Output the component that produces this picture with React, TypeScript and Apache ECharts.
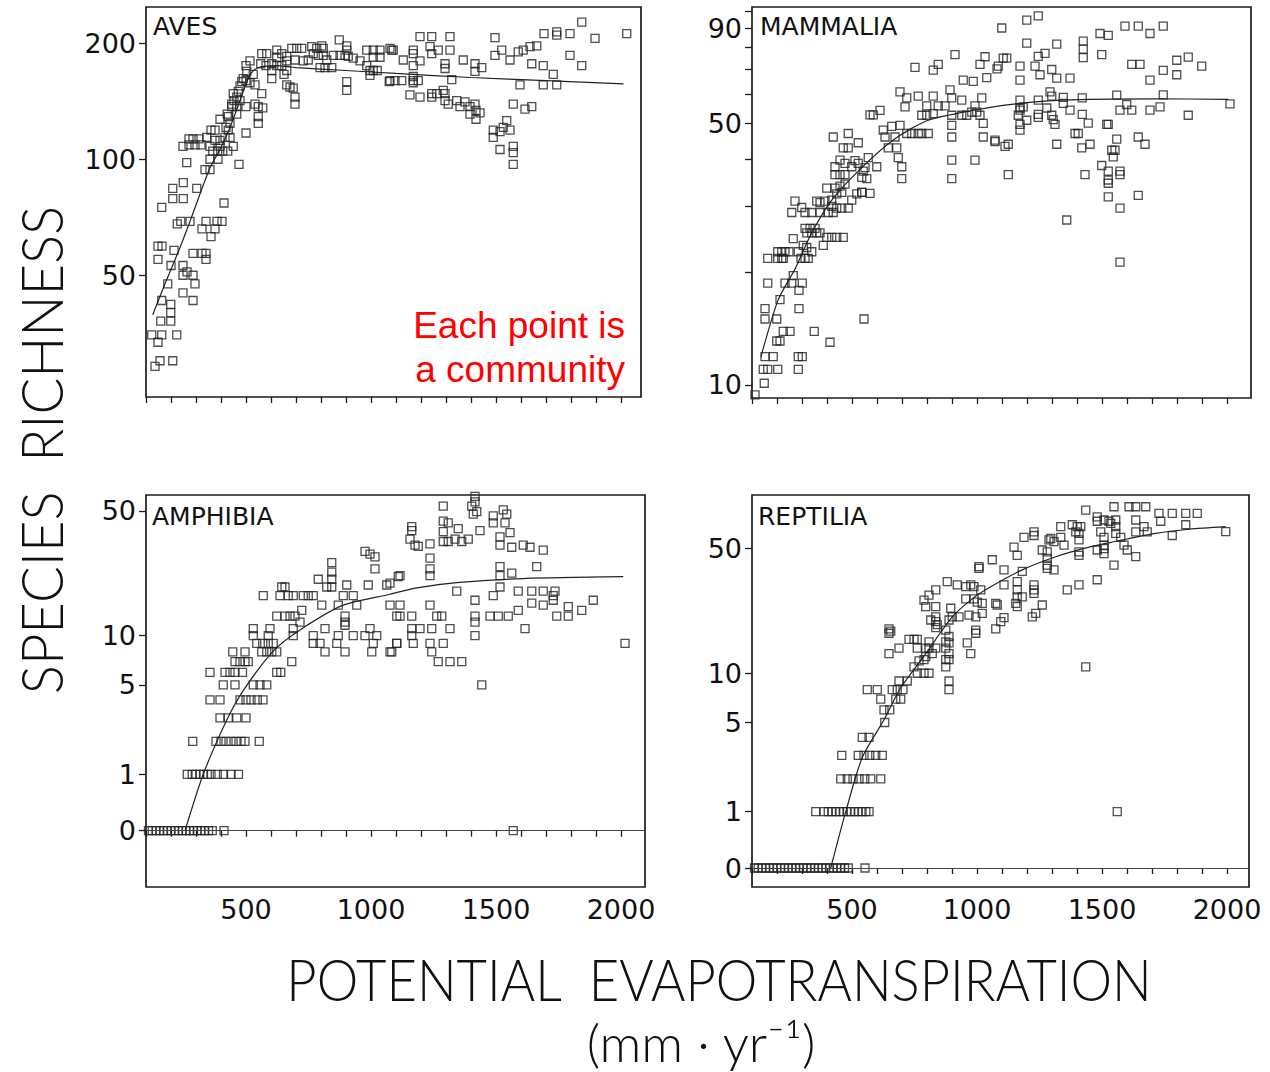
import React, { useEffect, useRef } from 'react';
import * as echarts from 'echarts';

// ---------- DATA: [potential evapotranspiration (mm/yr), species richness] ----------
const avesPoints: number[][] = [
  [123,35],[163,35],[148,33.5],[156,30],[136,29],[207,30],[223,35],[159,38],[199,38],[199,40],[199,42],[163,43],[148,55],[148,59.5],[164,59.5],[163,75],[187,47.5],[200,53],[212,58],[225,68],[239,69],[276,69],[207,84],[207,79],[249,79],[249,87],[263,98],[303,84],[248,53],[248,50],[248,45],[288,43],[288,50],[296,47.5],[264,51],[288,57],[324,57],[340,57],[340,55],[324,66],[360,63],[376,66],[340,69],[384,69],[404,69],[412,77],[472,97],[500,117],[336,94],[356,94],[356,100],[388,100],
  [248,108],[272,113],[288,113],[312,113],[272,109],[296,109],[320,109],[343,114],[356,108],[360,119],[376,119],[367,105],[387,105],[407,105],[427,105],[376,112],[396,112],[416,114],[429,119],[436,114],[420,121],[429,129],[436,124],[449,108],[396,108],[396,127],
  [425,131],[443,137],[452,142],[463,145],[449,148],[469,150],[476,155],[483,159],[489,162],[476,142],[463,137],[443,139],[463,131],
  [500,137],[536,139],[549,137],[567,136],[549,129],[549,124],
  [503,169],[500,160],[516,158],[536,156],[563,148],[516,180],[500,175],[529,166],
  [563,188],[583,188],[559,177],[580,175],[603,177],[603,170],[603,162],[623,192],[623,184],[643,188],[663,185],[663,180],[643,175],[623,175],
  [663,170],[652,166],[663,156],[676,154],[689,153],[696,145],[696,139],
  [683,194],[703,194],[723,194],[729,180],[749,181],[696,181],
  [763,196],[783,194],[803,197],[809,194],[769,188],[789,186],[809,186],[796,173],[816,173],[843,173],[823,181],[849,186],
  [873,204],[903,197],[903,192],[896,186],[876,186],[909,185],[929,183],[956,180],[983,175],[996,170],[1009,170],[1025,170],[996,165],[903,159],[903,151],
  [983,192],[1009,192],[1036,192],[1009,184],[1036,184],[1073,159],[1083,192],
  [1076,194],[1089,192],[1076,160],[1096,160],[1123,160],[1129,181],[1169,192],[1169,188],[1169,175],[1169,164],[1169,160],[1169,158],[1189,160],[1196,180],[1196,208],[1243,208],[1316,208],[1236,196],[1243,188],[1269,192],[1316,192],[1296,177],[1296,172],[1369,181],[1416,177],[1416,169],[1443,173],[1323,161],
  [1156,147],[1196,145],[1243,148],[1243,145],[1263,148],[1289,151],[1296,148],[1296,142],[1309,139],[1343,142],[1356,137],[1376,141],[1396,137],[1396,131],[1416,139],[1420,134],[1420,127],[1436,132],
  [1489,119],[1489,114],[1516,118],[1529,121],[1543,126],[1556,119],[1516,106],[1569,108],[1569,104],[1569,97],
  [1496,207],[1496,186],[1523,192],[1556,181],[1589,190],[1609,192],[1636,196],[1663,197],[1643,177],[1689,175],[1729,166],[1689,156],[1743,156],[1596,156],[1569,139],[1616,135],[1643,137],
  [1692,212],[1743,214],[1743,210],[1796,212],[1843,227],[1896,206],[1796,186],[1843,175],[2023,212],
];
const avesCurve: number[][] = [
  [127,39.5],[176,47.5],[236,59],[276,69],[356,95],[396,106],[436,121],[476,142],[500,157],[520,167],[550,173],[620,175],[700,173],[900,170],[1100,167],[1400,163],[1700,160],[2010,157],
];

const mammaliaPoints: number[][] = [
  [112,9.4],[149,10.1],[145,11],[163,11],[203,11],[152,11.9],[185,11.9],[285,11],[285,11.9],[301,11.9],[199,13.1],[212,13.1],[225,13.9],[252,13.9],[152,15],[199,15],[152,16],[288,16],[349,13.9],[412,13],[548,15],[212,16.9],[163,18.7],[232,18.7],[259,18.7],[301,18.7],[265,19.6],[288,17.9],
  [163,21.8],[203,22.7],[219,22.7],[232,22.7],[203,21.8],[219,21.8],[225,21.8],[248,22.7],[265,24.6],[285,22.7],[296,21.8],[312,21.8],[305,23.6],[319,23.3],[339,22.7],[325,21.8],
  [272,31],[259,28.9],[299,29.8],[312,28.9],[312,26.2],[332,26.2],[352,26.2],[319,25.5],[339,25.5],[359,25.5],[372,25.5],[385,23.6],[399,24.8],[419,24.8],[439,24.8],[465,24.8],
  [339,28.9],[359,31],[372,30.7],[392,31],[372,28.9],[405,28.9],[425,28.9],[419,30],[439,29.7],[459,29.7],[419,31.2],[439,32.4],[459,32.7],[485,29.7],[499,31.2],[519,32.4],[539,32.7],[572,32.5],[472,34.4],[452,34],[432,33.6],
  [399,33.6],[432,36.5],[452,36.5],[472,36.5],[432,38.3],[452,39.9],[472,39.1],[499,38.3],[465,43],[485,43],[512,39.8],[525,39.1],[545,37.3],[559,35.6],[539,35.9],[552,38.1],[565,40.5],[599,38.3],[539,32.7],
  [425,46],[485,47],[525,44.4],[572,52.7],[585,52.7],[612,54.2],[625,48],[632,46],[659,49.1],[672,46],[645,43],[679,43],[685,40.5],[699,38.3],[699,35.6],[692,49.4],[719,47],[739,47],[765,47],
  [692,60.7],[719,58.5],[712,55.4],[765,59.2],[799,55.7],[779,52.6],[799,52.6],[825,59.2],[825,53.1],[845,55.7],[872,55.7],[892,61.5],[899,58.5],[899,52.6],[899,49.4],[899,46],[899,39.9],[899,35.6],[939,57.7],[939,52.6],[959,52.6],[979,53.6],[999,53.6],[992,39.9],[1025,46],[1072,44.7],[1112,43.4],[779,47],[805,47],
  [752,70.6],[825,69.4],[845,71.9],[912,76.4],[945,65.3],[985,64.8],[1012,71.9],[1032,75.4],[1039,66.3],[1019,58.5],[992,55.7],[1012,52.6],[1025,50],[1085,71.2],[1105,74.8],
  [1099,90],[1199,94.5],[1245,97],[1199,82],[1245,75.6],[1272,77],[1319,81.5],[1080,70],[1119,74.8],[1172,71.2],[1172,65.3],[1232,71.2],[1252,67.5],[1299,69.7],[1319,66.1],[1372,66.1],[1425,83],[1425,79],[1425,75],[1492,87],[1525,86],[1499,76.4],[1592,91],[1645,91],[1692,87],[1745,91],[1619,71.9],[1652,71.9],[1692,65.3],[1745,69.3],[1799,73.8],[1799,67.5],[1845,75.2],[1899,71.2],[1745,59.6],
  [1172,57.7],[1172,55],[1185,55.4],[1172,54.3],[1165,52.6],[1172,49.7],[1172,48],[1199,51],[1245,57.7],[1245,52.9],[1245,51.9],[1279,55],[1292,60.7],[1299,59.2],[1299,52.6],[1305,51.2],[1312,49.7],[1345,58.7],[1345,56.6],[1372,54.3],[1421,58.5],[1421,52.9],[1445,50.1],[1392,47],[1405,47],[1519,49.7],[1559,59.5],[1572,54.3],[1599,56.2],[1619,54.3],[1692,54.3],[1732,55.4],[1845,52.6],[2012,56.4],
  [1072,45.1],[1125,44],[1319,44],[1419,43],[1452,44],[1525,49.7],[1539,42.4],[1552,42.4],[1545,40.7],[1559,45.4],[1645,46],[1672,44],[1125,36.5],[1432,36.5],[1499,38.6],[1525,37.3],[1525,35.3],[1525,34.6],[1572,37.3],[1572,36.5],[1525,31.8],[1645,32.1],[1572,29.7],[1359,27.6],[1572,21.3],
];
const mammaliaCurve: number[][] = [
  [136,11.9],[205,16.9],[272,20.4],[339,25.5],[419,31.2],[539,38.1],[672,45.5],[805,51],[1005,54.5],[1112,56],[1339,57.7],[1700,58.2],[2005,58],
];

const amphibiaPoints: number[][] = [
  [110,0],[125,0],[140,0],[155,0],[170,0],[185,0],[200,0],[215,0],[230,0],[245,0],[260,0],[275,0],[290,0],[305,0],[320,0],[335,0],[350,0],[365,0],[412,0],[1569,0],
  [265,1],[285,1],[300,1],[315,1],[330,1],[345,1],[360,1],[385,1],[410,1],[440,1],[470,1],
  [287,2],[380,2],[400,2],[420,2],[440,2],[460,2],[480,2],[496,2],[553,2],
  [396,3],[429,3],[463,3],[500,3],
  [356,4],[396,4],[476,4],[500,4],[520,4],[545,4],[568,4],
  [409,5],[456,5],[529,5],[556,5],[583,5],
  [356,6],[416,6],[436,6],[456,6],[486,6],[623,6],[639,6],
  [456,7],[476,7],[496,7],[509,7],[683,7],
  [447,8],[496,8],[563,8],[583,8],[603,8],[623,8],[816,8],[896,8],[1003,8],[1083,8],
  [543,9],[567,9],[589,9],[609,9],[769,9],[796,9],[863,9],[1009,9],[1103,9],
  [529,10],[589,10],[689,10],[769,10],[869,10],[929,10],[976,10],[1023,10],[996,11],
  [529,11],[596,11],[689,11],[816,11],[896,11.5],[896,12],[896,13],[716,12],
  [623,13],[656,13],[676,13],[696,13],[723,14],[803,15],[869,15],[943,15],[1103,13],
  [569,17],[636,17],[669,17],[689,17],[729,17],[749,17],[769,17],[643,19],[656,19],[789,21],[823,19],[843,19],[843,21],[843,23],[843,26],[903,19.5],[989,19.5],[1063,19.5],[929,17],[889,17],
  [976,30],[996,29],[1016,28],[1016,24],[1109,21.7],
  [1076,20],[1116,22],[1076,15],[1116,15],[1116,13],[1163,13],[1076,8],[1103,9],[1169,9],[1163,11],[1196,11],[1163,10],[1243,11],[1236,15],[1263,13],[1283,13],[1316,11],[1289,9],[1236,9],[1243,8],[1269,7],[1316,7],[1363,7],[1343,18],
  [1236,22],[1236,24],[1236,27.5],[1236,33],[1189,32],[1176,32.5],[1156,35],[1163,39],[1163,41],[1289,53],[1289,44],[1309,43],[1289,38.5],[1289,34],[1309,34],[1336,35],[1363,34],[1349,40],[1389,35],
  [1403,53],[1409,48],[1423,49.5],[1416,60],[1416,56],[1436,39],[1489,47],[1489,43],[1529,50.6],[1543,48],[1536,43],[1556,38],[1516,36],[1516,32.5],[1563,31.6],[1609,32.5],[1636,31.6],[1689,30.5],[1663,24.7],[1516,24.7],[1516,22],[1563,22.7],[1516,19],[1489,17],
  [1416,16],[1416,13],[1416,12],[1416,10],[1476,13],[1509,13],[1549,13],[1589,14],[1589,18],[1643,18],[1689,18],[1736,18],[1643,15.4],[1689,15],[1729,16],[1729,17],[1789,14.7],[1843,14],[1889,16],[1789,13],[1743,13],[1616,11],[1443,5],[2016,9],
];
const amphibiaCurve: number[][] = [
  [256,0],[329,1],[423,2.9],[489,4.6],[609,8.1],[716,10.8],[889,15],[1076,17.3],[1183,18.8],[1343,20.1],[1609,21.2],[2009,21.7],
];

const reptiliaPoints: number[][] = [
  [110,0],[125,0],[140,0],[155,0],[170,0],[185,0],[200,0],[215,0],[230,0],[245,0],[260,0],[275,0],[290,0],[305,0],[320,0],[335,0],[350,0],[365,0],[380,0],[395,0],[410,0],[425,0],[440,0],[455,0],[470,0],[485,0],[552,0],
  [355,1],[388,1],[405,1],[420,1],[435,1],[450,1],[465,1],[480,1],[495,1],[510,1],[525,1],[540,1],[555,1],[568,1],[1561,1],
  [455,2],[481,2],[504,2],[528,2],[551,2],[575,2],[615,2],
  [459,3],[525,3],[548,3],[571,3],[595,3],[621,3],
  [541,4],[568,4],
  [631,5],[628,6],[651,6],[615,7],[675,7],[695,7],[561,8],[601,8],[661,8],[681,8],[704,8],[688,9],[721,9],
  [748,10.9],[768,11.8],[788,12],[808,10],[788,10],[761,10],[875,10.9],[875,12],
  [648,13],[688,14],[648,17],[648,18],[655,17.5],[761,14],[761,15.7],[728,15.7],[748,15.7],[795,14],[808,14],[835,14],[808,15.2],[795,12.5],[821,13],[835,18.3],[835,19.8],[875,14],[875,15.2],[888,16.3],[888,15],[888,13],[888,12],[888,9],[888,8],[961,15],[975,13],
  [788,26.1],[808,27.8],[835,29.7],[795,24],[835,24],[815,20.2],[835,21],[841,19],[881,33],[921,31.7],[955,31],[975,31.7],[988,31],[955,26.5],[988,26.5],[1015,29.7],[1001,25.4],[1021,25],[1021,22],[995,21],[995,17.7],[995,17],[901,21],[928,21],[888,20.2],[875,17.7],[895,23.5],[968,21.5],[1008,39.9],[1061,43.5],[1008,39],
  [1075,25],[1075,18],[1435,10.9],
  [1108,38.3],[1108,31.7],[1081,24.5],[1095,19.8],[1108,20.8],[1148,51],[1161,46],[1181,37.6],[1161,33],[1161,29.7],[1161,27.2],[1155,25],[1161,24],[1181,27.2],[1188,57.6],[1228,61.8],[1228,59],[1228,31.7],[1228,29.7],[1228,28.4],[1221,21],[1235,22],[1261,24.5],
  [1261,49.2],[1281,48.1],[1281,44.3],[1281,40.7],[1281,39],[1308,38.3],[1288,55.8],[1295,56.9],[1308,54.6],[1335,65.9],[1348,52.3],[1335,57.6],[1361,29.7],[1381,67.5],[1401,65.9],[1395,61.8],[1408,60.6],[1408,55.8],[1408,48.1],[1408,46],[1408,31.7],[1415,65.9],
  [1435,81],[1481,74.5],[1481,70.5],[1495,61.8],[1481,49.2],[1481,33.8],[1508,71.6],[1528,70.5],[1508,57.6],[1508,52.3],[1508,50],[1508,47],[1535,68.7],[1555,71.6],[1555,65.9],[1555,60.6],[1548,40.7],[1548,84.5],[1575,57.6],[1588,52.3],[1601,49.2],[1635,45.2],
  [1608,84.5],[1635,84.5],[1635,71.6],[1635,61.8],[1668,65.9],[1675,84.5],[1681,61.8],[1728,77.8],[1735,70.5],[1781,77.8],[1781,59],[1835,77.8],[1835,67.5],[1881,77.8],[1995,62],
];
const reptiliaCurve: number[][] = [
  [415,0],[475,1],[541,2.9],[628,5.2],[695,8.2],[795,13],[901,21],[981,26.5],[1048,30.5],[1181,38.3],[1315,45.2],[1448,51],[1581,55.8],[1715,60.6],[1848,63.8],[1995,65.9],
];

// ---------- TICKS ----------
const xTicks = [100,200,300,400,500,600,700,800,900,1000,1100,1200,1300,1400,1500,1600,1700,1800,1900,2000];
const xLabels = [500,1000,1500,2000];
const avesYLabels = [50,100,200];
const mammaliaYTicks = [10,20,30,40,50,60,70,80,90,100];
const mammaliaYLabels = [10,50,90];
const lowerYLabels = [0,1,5,10,50];

const lg = (v: number) => Math.log10(v);
const lg1 = (v: number) => Math.log10(v + 1);

const INK = '#1c1c1c';
const NUM_FONT = '"DejaVu Sans", sans-serif';

const panels = [
  { title: 'AVES', pts: avesPoints, curve: avesCurve, f: lg, yTicks: avesYLabels, yLabels: avesYLabels,
    grid: { left: 146, top: 7, width: 495, height: 390 }, yMin: 1.383, yMax: 2.3952, xMax: 2080, showX: false, zero: false, titlePos: [153, 26] },
  { title: 'MAMMALIA', pts: mammaliaPoints, curve: mammaliaCurve, f: lg, yTicks: mammaliaYTicks, yLabels: mammaliaYLabels,
    grid: { left: 752, top: 7, width: 499, height: 391 }, yMin: 0.9649, yMax: 2.0104, xMax: 2096, showX: false, zero: false, titlePos: [760, 26] },
  { title: 'AMPHIBIA', pts: amphibiaPoints, curve: amphibiaCurve, f: lg1, yTicks: lowerYLabels, yLabels: lowerYLabels,
    grid: { left: 146, top: 495, width: 499, height: 392 }, yMin: -0.3006, yMax: 1.7923, xMax: 2096, showX: true, zero: true, titlePos: [152, 516] },
  { title: 'REPTILIA', pts: reptiliaPoints, curve: reptiliaCurve, f: lg1, yTicks: lowerYLabels, yLabels: lowerYLabels,
    grid: { left: 752, top: 495, width: 497, height: 392 }, yMin: -0.1016, yMax: 1.9947, xMax: 2088, showX: true, zero: true, titlePos: [758, 516] },
];

function buildOption() {
  const grid: any[] = [];
  const xAxis: any[] = [];
  const yAxis: any[] = [];
  const series: any[] = [];
  const graphic: any[] = [];

  panels.forEach((p, i) => {
    grid.push({ ...p.grid, show: true, borderColor: INK, borderWidth: 1.7, backgroundColor: 'transparent', containLabel: false });
    xAxis.push({
      type: 'value', gridIndex: i, min: 100, max: p.xMax,
      axisLine: { show: false }, splitLine: { show: false },
      axisTick: { show: true, customValues: xTicks, length: 6, lineStyle: { color: INK, width: 1.3 } },
      axisLabel: {
        show: p.showX, customValues: xLabels, fontSize: 27, color: '#111', fontFamily: NUM_FONT, margin: 9,
        formatter: (v: number) => String(Math.round(v)),
      },
    });
    const f = p.f;
    const labels = p.yLabels;
    yAxis.push({
      type: 'value', gridIndex: i, min: p.yMin, max: p.yMax,
      axisLine: { show: false }, splitLine: { show: false },
      axisTick: { show: true, customValues: p.yTicks.map(f), length: 7, lineStyle: { color: INK, width: 1.3 } },
      axisLabel: {
        show: true, customValues: labels.map(f), fontSize: 27, color: '#111', fontFamily: NUM_FONT, margin: 10,
        formatter: (v: number) => {
          const l = labels.find((t) => Math.abs(f(t) - v) < 1e-6);
          return l === undefined ? '' : String(l);
        },
      },
    });
    series.push({
      type: 'scatter', xAxisIndex: i, yAxisIndex: i, silent: true, z: 3,
      symbol: 'rect', symbolSize: 8,
      itemStyle: { color: 'rgba(255,255,255,0)', borderColor: '#222', borderWidth: 1.3 },
      data: p.pts.map(([x, v]) => [x, f(v)]),
    });
    const line: any = {
      type: 'line', xAxisIndex: i, yAxisIndex: i, silent: true, z: 2,
      showSymbol: false, smooth: 0.25,
      lineStyle: { color: '#222', width: 1.2 },
      data: p.curve.map(([x, v]) => [x, f(v)]),
    };
    if (p.zero) {
      line.markLine = {
        silent: true, symbol: 'none', label: { show: false },
        lineStyle: { color: '#444', width: 1, type: 'solid' },
        data: [{ yAxis: 0 }],
      };
    }
    series.push(line);
    graphic.push({
      type: 'text', x: p.titlePos[0], y: p.titlePos[1], z: 10,
      style: { text: p.title, font: '25px "DejaVu Sans"', fill: '#111', align: 'left', verticalAlign: 'middle', textAlign: 'left', textVerticalAlign: 'middle' },
    });
  });

  graphic.push(
    { type: 'text', x: 625, y: 325, z: 10,
      style: { text: 'Each point is', font: '37px "Liberation Sans", Arial', fill: '#ff0000', align: 'right', verticalAlign: 'middle', textAlign: 'right', textVerticalAlign: 'middle' } },
    { type: 'text', x: 625, y: 369, z: 10,
      style: { text: 'a community', font: '37px "Liberation Sans", Arial', fill: '#ff0000', align: 'right', verticalAlign: 'middle', textAlign: 'right', textVerticalAlign: 'middle' } },
    { type: 'text', x: 41, y: 450, rotation: Math.PI / 2, scaleX: 0.955, z: 10,
      style: { text: 'SPECIES  RICHNESS', font: '300 57px Lato', fill: '#111', align: 'center', verticalAlign: 'middle', textAlign: 'center', textVerticalAlign: 'middle' } },
    { type: 'text', x: 719, y: 978, scaleX: 0.906, z: 10,
      style: { text: 'POTENTIAL  EVAPOTRANSPIRATION', font: '300 58px Lato', fill: '#111', align: 'center', verticalAlign: 'middle', textAlign: 'center', textVerticalAlign: 'middle' } },
    { type: 'text', x: 701, y: 1042, z: 10,
      style: { text: '(mm · yr⁻¹)', font: '300 52px Lato', fill: '#111', align: 'center', verticalAlign: 'middle', textAlign: 'center', textVerticalAlign: 'middle' } },
  );

  return { animation: false, backgroundColor: '#ffffff', grid, xAxis, yAxis, series, graphic };
}

export default function App() {
  const ref = useRef<HTMLDivElement>(null);
  useEffect(() => {
    if (!ref.current) return;
    const chart = echarts.init(ref.current, undefined, { renderer: 'svg' });
    chart.setOption(buildOption() as any);
    return () => chart.dispose();
  }, []);
  return <div ref={ref} style={{ position: 'absolute', left: 0, top: 0, width: 1270, height: 1072, background: '#fff' }} />;
}
